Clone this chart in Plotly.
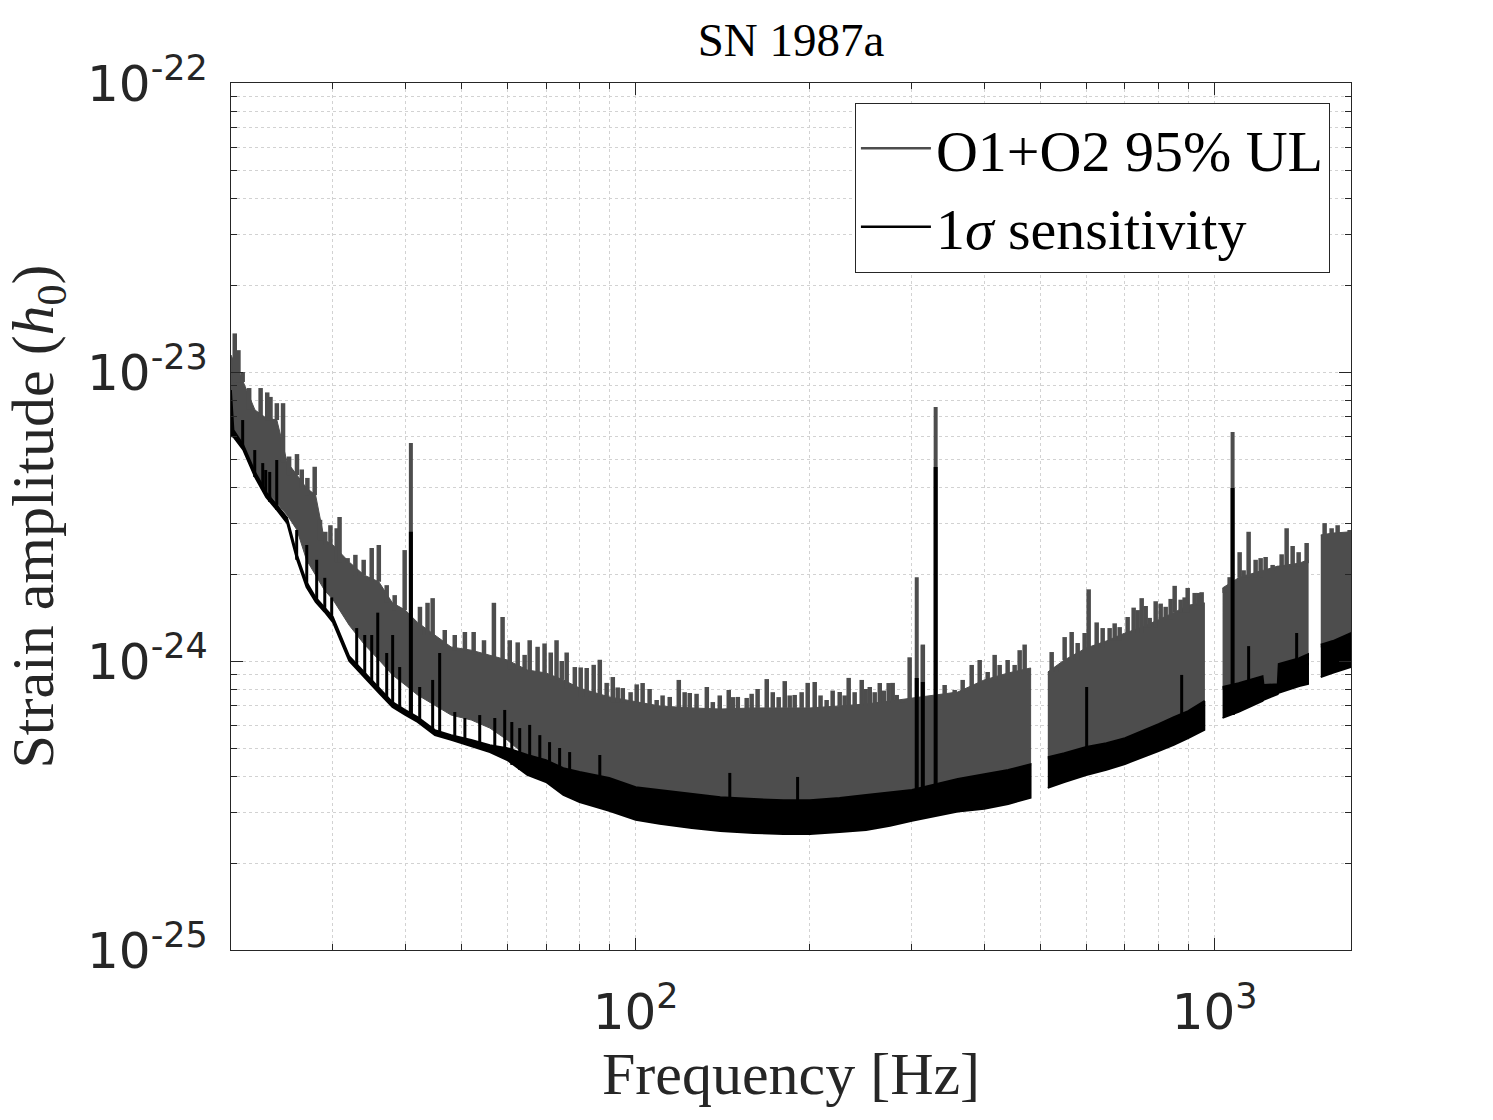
import plotly.graph_objects as go

# ---------------- data ----------------
# O1+O2 95% upper limit: dense band (upper / lower edge), gaps marked by None
ul_freq = [20, 21, 22, 23, 24, 25, 26, 27, 28, 29, 30, 32, 34, 36, 38, 40, 42, 45, 48, 52, 56, 60,
           65, 70, 75, 80, 90, 100, 110, 125, 140, 160, 180, 200, 225, 250, 275, 300, 330, 360, 400,
           440, 481, None,
           515, 550, 600, 650, 700, 750, 800, 850, 900, 960, None,
           1032, 1100, 1210, 1215, 1285, 1290, 1400, 1450, None,
           1525, 1600, 1720]
ul_top = [1.145e-23, 9.23e-24, 7.39e-24, 6.93e-24, 6.82e-24, 4.88e-24, 4.40e-24, 3.97e-24, 3.75e-24,
          2.62e-24, 2.52e-24, 2.20e-24, 1.98e-24, 1.88e-24, 1.59e-24, 1.50e-24, 1.36e-24, 1.23e-24,
          1.118e-24, 1.09e-24, 1.05e-24, 1.008e-24, 9.31e-25, 9.09e-25, 8.60e-25, 8.06e-25, 7.51e-25,
          7.21e-25, 6.99e-25, 6.88e-25, 6.82e-25, 6.88e-25, 6.88e-25, 6.88e-25, 6.99e-25, 7.10e-25,
          7.27e-25, 7.45e-25, 7.63e-25, 7.81e-25, 8.60e-25, 9.09e-25, 9.46e-25, None,
          9.16e-25, 1.008e-24, 1.109e-24, 1.173e-24, 1.25e-24, 1.31e-24, 1.39e-24, 1.47e-24, 1.56e-24,
          1.59e-24, None,
          1.79e-24, 1.94e-24, 2.06e-24, 2.06e-24, 2.13e-24, 2.13e-24, 2.18e-24, 2.24e-24, None,
          2.73e-24, 2.77e-24, 2.80e-24]
ul_bot = [6.30e-24, 5.46e-24, 4.44e-24, 3.91e-24, 3.52e-24, 3.20e-24, 2.84e-24, 2.24e-24, 1.98e-24,
          1.76e-24, 1.63e-24, 1.33e-24, 1.14e-24, 1.01e-24, 8.95e-25, 8.26e-25, 7.63e-25, 7.04e-25,
          6.50e-25, 6.25e-25, 5.86e-25, 5.33e-25, 4.65e-25, 4.47e-25, 4.20e-25, 4.06e-25, 3.87e-25,
          3.61e-25, 3.52e-25, 3.41e-25, 3.33e-25, 3.28e-25, 3.25e-25, 3.25e-25, 3.30e-25, 3.38e-25,
          3.47e-25, 3.52e-25, 3.69e-25, 3.84e-25, 4.00e-25, 4.13e-25, 4.33e-25, None,
          4.58e-25, 4.73e-25, 4.96e-25, 5.12e-25, 5.33e-25, 5.63e-25, 5.96e-25, 6.30e-25, 6.61e-25,
          7.16e-25, None,
          8.00e-25, 8.26e-25, 8.74e-25, 8.13e-25, 8.19e-25, 9.61e-25, 1.008e-24, 1.041e-24, None,
          1.118e-24, 1.154e-24, 1.23e-24]

# O1+O2 95% upper limit: tall narrow peaks rising above the band
ul_peak_freq = [20.3, 20.6, 20.95, 21.5, 22.5, 23.1, 23.4, 24.0, 24.6, 25.2, 26.0, 26.5, 27.1, 27.9,
                28.5, 29.1, 29.7, 30.45, 30.8, 31.8, 32.8, 33.9, 35.0, 36.0, 37.15, 38.35, 39.9,
                42.4, 43.7, 44.6, 46.8, 48.7, 50.7, 52.5, 54.7, 56.9, 58.9, 60.6, 64.3, 65.6, 67.7,
                69.6, 73.0, 76.0, 78.5, 82.3, 86.7, 91.3, 95.0, 102.8, 108.7, 114.5, 118.7, 124.0,
                132.7, 135.9, 144.8, 150.1, 155.5, 168.4, 180.9, 188.2, 203.8, 213.7, 225.1, 233.3,
                245.7, 253.7, 264.0, 273.5, 282.4, 289.2, 297.3, 313.3, 341.7, 355.6, 367.1, 380.5,
                392.8, 405.5, 416.9, 425.3, 439.0, 451.4, 460.5, 469.7,
                523.0, 533.5, 550.7, 566.3, 580.0, 605.9, 625.5, 658.6, 685.4, 707.5, 724.6, 748.1,
                772.3, 790.9, 823.0, 853.0, 873.6, 898.3, 923.6, 949.6,
                1040.5, 1061.4, 1104.5, 1122.2, 1144.7, 1177.0, 1200.7, 1224.8, 1259.4, 1305.3,
                1331.5, 1363.7, 1396.6, 1441.7,
                1548.6, 1592.3, 1630.8, 1676.8, 1710.5]
ul_peak_h = [1.36e-23, 1.19e-23, 1.0e-23, 8.8e-24, 8.8e-24, 8.5e-24, 8.2e-24, 7.8e-24, 7.8e-24,
             5.1e-24, 5.2e-24, 4.6e-24, 4.3e-24, 4.7e-24,
             3.08e-24, 2.80e-24, 2.95e-24, 2.88e-24, 3.15e-24, 2.27e-24, 2.33e-24, 2.24e-24,
             2.46e-24, 2.52e-24, 1.83e-24, 1.69e-24, 2.42e-24,
             1.54e-24, 1.59e-24, 1.65e-24, 1.28e-24, 1.23e-24, 1.26e-24, 1.26e-24, 1.18e-24,
             1.59e-24, 1.42e-24, 1.18e-24, 1.05e-24, 1.18e-24, 1.12e-24,
             1.15e-24, 1.18e-24, 1.07e-24, 9.53e-25, 9.46e-25, 1.01e-24, 8.80e-25, 8.06e-25,
             8.39e-25, 7.33e-25, 7.51e-25, 8.60e-25, 7.75e-25,
             8.13e-25, 7.21e-25, 7.94e-25, 7.51e-25, 7.45e-25, 8.66e-25, 8.52e-25, 7.63e-25,
             8.46e-25, 7.33e-25, 7.81e-25, 8.74e-25,
             8.60e-25, 8.13e-25, 8.39e-25, 8.39e-25, 7.63e-25, 7.21e-25, 1.03e-24, 1.14e-24,
             8.26e-25, 7.94e-25, 8.60e-25, 9.69e-25,
             1.008e-24, 9.16e-25, 1.05e-24, 9.69e-25, 1.008e-24, 9.69e-25, 1.09e-24, 1.14e-24,
             1.074e-24, 9.53e-25, 1.21e-24, 1.26e-24, 1.154e-24, 1.77e-24, 1.36e-24, 1.30e-24,
             1.31e-24, 1.42e-24, 1.53e-24, 1.65e-24,
             1.41e-24, 1.61e-24, 1.54e-24, 1.82e-24, 1.63e-24, 1.79e-24, 1.72e-24, 1.73e-24,
             1.72e-24, 1.95e-24, 2.38e-24, 2.06e-24, 2.80e-24, 2.24e-24, 2.27e-24, 2.29e-24,
             2.15e-24, 2.34e-24, 2.88e-24, 2.50e-24, 2.38e-24, 2.56e-24,
             3.00e-24, 2.88e-24, 2.95e-24, 2.77e-24, 2.84e-24]

# O1+O2 95% upper limit: smaller peaks filling the band's ragged top edge
ul_small_freq = [62.55, 71.33, 74.52, 80.36, 84.62, 89.1, 93.1, 98.0, 100.4, 105.7, 111.3, 121.5,
                 127.4, 139.7, 147.1, 158.6, 162.4, 172.5, 176.6, 184.5, 193.5, 198.2, 208.6,
                 218.9, 229.6, 238.9, 249.6, 258.7, 268.2, 277.9,
                 596.3, 640.6, 671.9, 736.3, 760.1, 806.8, 839.5, 887.5, 938.3]
ul_small_h = [1.16e-24, 1.07e-24, 1.0e-24, 9.5e-25, 9.7e-25, 8.4e-25, 8.1e-25, 7.8e-25,
              8.3e-25, 8.0e-25, 7.6e-25, 7.8e-25, 7.7e-25, 7.6e-25, 7.5e-25, 7.7e-25,
              8.0e-25, 7.8e-25, 7.5e-25, 7.6e-25, 7.8e-25, 8.4e-25, 7.6e-25, 7.9e-25,
              7.6e-25, 7.8e-25, 8.0e-25, 7.8e-25, 7.9e-25, 8.4e-25,
              1.25e-24, 1.30e-24, 1.35e-24, 1.50e-24, 1.55e-24, 1.58e-24, 1.64e-24, 1.66e-24,
              1.72e-24]

# 1-sigma sensitivity: band (upper / lower edge), gaps marked by None
sens_freq = [20, 20.2, 21, 22, 23, 24, 25, 26, 27, 28, 29, 30, 32, 34, 36, 38, 40, 42, 45, 48, 52, 56,
             60, 65, 70, 75, 80, 90, 100, 110, 125, 140, 160, 180, 200, 225, 250, 275, 300, 330,
             360, 400, 440, 481, None,
             515, 550, 600, 650, 700, 750, 800, 850, 900, 960, None,
             1032, 1100, 1210, 1215, 1285, 1290, 1400, 1450, None,
             1525, 1600, 1720]
sens_top = [8.66e-24, 6.30e-24, 5.59e-24, 4.51e-24, 3.85e-24, 3.47e-24, 3.13e-24, 2.33e-24, 1.88e-24,
            1.66e-24, 1.54e-24, 1.42e-24, 1.04e-24, 9.16e-25, 8.06e-25, 7.21e-25, 6.77e-25, 6.40e-25,
            5.77e-25, 5.54e-25, 5.33e-25, 5.12e-25, 5.00e-25, 4.73e-25, 4.54e-25, 4.26e-25, 4.13e-25,
            3.94e-25, 3.66e-25, 3.58e-25, 3.47e-25, 3.38e-25, 3.33e-25, 3.30e-25, 3.30e-25, 3.36e-25,
            3.44e-25, 3.52e-25, 3.58e-25, 3.75e-25, 3.91e-25, 4.06e-25, 4.20e-25, 4.40e-25, None,
            4.65e-25, 4.80e-25, 5.04e-25, 5.20e-25, 5.41e-25, 5.72e-25, 6.05e-25, 6.40e-25, 6.71e-25,
            7.27e-25, None,
            8.13e-25, 8.39e-25, 8.87e-25, 8.26e-25, 8.32e-25, 9.76e-25, 1.024e-24, 1.057e-24, None,
            1.14e-24, 1.173e-24, 1.25e-24]
sens_bot = [6.00e-24, 5.96e-24, 5.37e-24, 4.33e-24, 3.69e-24, 3.33e-24, 3.00e-24, 2.24e-24, 1.80e-24,
            1.60e-24, 1.48e-24, 1.36e-24, 1.00e-24, 8.80e-25, 7.75e-25, 6.93e-25, 6.50e-25, 6.15e-25,
            5.54e-25, 5.33e-25, 5.08e-25, 4.84e-25, 4.54e-25, 4.03e-25, 3.81e-25, 3.44e-25, 3.25e-25,
            3.03e-25, 2.82e-25, 2.73e-25, 2.64e-25, 2.58e-25, 2.54e-25, 2.52e-25, 2.52e-25, 2.56e-25,
            2.60e-25, 2.69e-25, 2.80e-25, 2.91e-25, 3.01e-25, 3.08e-25, 3.20e-25, 3.36e-25, None,
            3.64e-25, 3.81e-25, 4.03e-25, 4.20e-25, 4.40e-25, 4.65e-25, 4.88e-25, 5.12e-25, 5.41e-25,
            5.77e-25, None,
            6.35e-25, 6.66e-25, 7.27e-25, 7.33e-25, 7.68e-25, 7.75e-25, 8.19e-25, 8.32e-25, None,
            8.80e-25, 9.09e-25, 9.53e-25]

# 1-sigma sensitivity: narrow lines (frequency, foot, top)
sens_peak_freq = [20.95, 21.98, 22.69, 22.96, 23.33, 23.99, 25.97, 27.03, 28.12, 29.04, 29.85,
                  32.97, 34.04, 35.0, 35.85, 37.15, 38.04, 39.12, 42.36, 44.6, 45.86, 48.7, 50.7,
                  53.78, 57.1, 59.4, 61.1, 63.05, 65.6, 68.3, 71.0, 73.9, 76.9, 86.7, 145.4, 190.4,
                  601.1, 877.1, 1144.7, 1385.6]
sens_peak_base = [5.50e-24, 4.33e-24, 3.91e-24, 3.75e-24, 3.55e-24, 3.33e-24, 2.24e-24, 1.83e-24,
                  1.60e-24, 1.48e-24, 1.39e-24, 9.46e-25, 8.80e-25, 8.39e-25, 7.94e-25, 7.33e-25,
                  7.04e-25, 6.77e-25, 6.15e-25, 5.63e-25, 5.46e-25, 5.33e-25, 5.24e-25, 5.08e-25,
                  4.84e-25, 4.65e-25, 4.37e-25, 4.20e-25, 4.03e-25, 3.94e-25, 3.81e-25, 3.58e-25,
                  3.44e-25, 3.30e-25, 2.71e-25, 2.71e-25, 4.20e-25, 5.33e-25, 7.94e-25, 8.60e-25]
sens_peak_h = [6.82e-24, 5.37e-24, 4.84e-24, 4.58e-24, 4.51e-24, 4.96e-24, 2.84e-24, 2.52e-24,
               2.24e-24, 1.94e-24, 1.66e-24, 1.30e-24, 1.23e-24, 1.23e-24, 1.47e-24, 1.066e-24,
               1.23e-24, 9.53e-25, 8.13e-25, 8.60e-25, 1.066e-24, 6.66e-25, 6.35e-25, 6.50e-25,
               6.35e-25, 6.77e-25, 6.15e-25, 5.86e-25, 6.01e-25, 5.54e-25, 5.24e-25, 5.00e-25,
               4.84e-25, 4.73e-25, 4.10e-25, 3.97e-25, 8.13e-25, 8.95e-25, 1.126e-24, 1.25e-24]

# strong instrumental lines seen in both curves
line_freq = [40.9, 305.8, 313.3, 329.7, 1074]
line_base = [6.4e-25, 2.93e-25, 2.93e-25, 3.01e-25, 6.50e-25]
line_ul = [5.68e-24, 1.95e-24, 1.13e-24, 7.57e-24, 6.20e-24]
line_sens = [2.80e-24, 8.74e-25, 8.46e-25, 4.69e-24, 3.97e-24]

series_names = ["O1+O2 95% UL", "1<i>σ</i> sensitivity"]
x_tick_vals = [100, 1000]
x_tick_text = ["10<sup>2</sup>", "10<sup>3</sup>"]
y_tick_vals = [1e-25, 1e-24, 1e-23, 1e-22]
y_tick_text = ["10<sup>-25</sup>", "10<sup>-24</sup>", "10<sup>-23</sup>", "10<sup>-22</sup>"]
x_minor = [30, 40, 50, 60, 70, 80, 90, 200, 300, 400, 500, 600, 700, 800, 900]
y_minor = [m * 10.0 ** e for e in (-25, -24, -23) for m in range(2, 10)]

UL_COLOR = "#4d4d4d"
SENS_COLOR = "#000000"


# ---------------- helpers ----------------
def segments(freq, *cols):
    out, cur = [], [[] for _ in range(len(cols) + 1)]
    for i, f in enumerate(freq):
        if f is None:
            out.append(cur)
            cur = [[] for _ in range(len(cols) + 1)]
        else:
            cur[0].append(f)
            for j, c in enumerate(cols):
                cur[j + 1].append(c[i])
    out.append(cur)
    return out


def band(freq, top, bot):
    xs, ys = [], []
    for f, t, b in segments(freq, top, bot):
        xs += f + f[::-1] + [None]
        ys += t + b[::-1] + [None]
    return xs, ys


def peak_foot(p, freq, top):
    # foot of a peak: the lower of the two band-edge nodes around it (always inside the band)
    for f, t in segments(freq, top):
        if f[0] <= p <= f[-1]:
            i = next(k for k, v in enumerate(f) if v >= p)
            return t[i] if i == 0 else min(t[i - 1], t[i])
    return None


def sticks(freq, lo, hi):
    xs, ys = [], []
    for f, a, b in zip(freq, lo, hi):
        xs += [f, f, None]
        ys += [a, b, None]
    return xs, ys


fig = go.Figure()

# UL band
bx, by = band(ul_freq, ul_top, ul_bot)
fig.add_trace(go.Scatter(x=bx, y=by, mode="lines", fill="toself", fillcolor=UL_COLOR,
                         line=dict(color=UL_COLOR, width=1), showlegend=False, hoverinfo="skip"))
# UL peaks
all_pf = ul_peak_freq + ul_small_freq
all_ph = ul_peak_h + ul_small_h
feet = [peak_foot(p, ul_freq, ul_top) for p in all_pf]
px, py = sticks(all_pf, feet, all_ph)
fig.add_trace(go.Scatter(x=px, y=py, mode="lines", line=dict(color=UL_COLOR, width=4.5),
                         showlegend=False))
# strong lines, UL part
lx, ly = sticks(line_freq, line_base, line_ul)
fig.add_trace(go.Scatter(x=lx, y=ly, mode="lines", line=dict(color=UL_COLOR, width=4),
                         showlegend=False))
# sensitivity band
sx, sy = band(sens_freq, sens_top, sens_bot)
fig.add_trace(go.Scatter(x=sx, y=sy, mode="lines", fill="toself", fillcolor=SENS_COLOR,
                         line=dict(color=SENS_COLOR, width=1.8), showlegend=False, hoverinfo="skip"))
# sensitivity narrow lines
kx, ky = sticks(sens_peak_freq, sens_peak_base, sens_peak_h)
fig.add_trace(go.Scatter(x=kx, y=ky, mode="lines", line=dict(color=SENS_COLOR, width=3),
                         showlegend=False))
# strong lines, sensitivity part
lx2, ly2 = sticks(line_freq, line_base, line_sens)
fig.add_trace(go.Scatter(x=lx2, y=ly2, mode="lines", line=dict(color=SENS_COLOR, width=4),
                         showlegend=False))
# legend entries (thin line keys like the reference)
fig.add_trace(go.Scatter(x=[None], y=[None], mode="lines", line=dict(color=UL_COLOR, width=2.5),
                         name=series_names[0]))
fig.add_trace(go.Scatter(x=[None], y=[None], mode="lines", line=dict(color=SENS_COLOR, width=2.5),
                         name=series_names[1]))

AX = "#262626"
GRID = "#d2d2d2"
SERIF = "Liberation Serif"
axis_common = dict(type="log", showline=True, linecolor=AX, linewidth=1.3, mirror="ticks",
                   ticks="inside", ticklen=12, tickwidth=1.2, tickcolor=AX,
                   showgrid=True, gridcolor=GRID, griddash="3px,3px", gridwidth=1,
                   zeroline=False,
                   tickfont=dict(family="DejaVu Sans", size=50, color=AX))

fig.update_layout(
    width=1493, height=1120,
    margin=dict(l=231, r=142, t=83, b=170),
    paper_bgcolor="white", plot_bgcolor="white",
    title=dict(text="SN 1987a", x=0.5, xref="paper", xanchor="center",
               y=1 - 40 / 1120, yref="container", yanchor="middle",
               font=dict(family=SERIF, size=47, color="black")),
    xaxis=dict(axis_common, range=[1.30103, 3.2355],
               tickvals=x_tick_vals, ticktext=x_tick_text, ticklabelstandoff=18,
               minor=dict(tickvals=x_minor, ticks="inside", ticklen=6, tickcolor=AX,
                          showgrid=True, gridcolor=GRID, griddash="3px,3px"),
               title=dict(text="Frequency [Hz]", standoff=8,
                          font=dict(family=SERIF, size=60, color=AX))),
    yaxis=dict(axis_common, range=[-25, -22],
               tickvals=y_tick_vals, ticktext=y_tick_text, ticklabelstandoff=12,
               minor=dict(tickvals=y_minor, ticks="inside", ticklen=6, tickcolor=AX,
                          showgrid=True, gridcolor=GRID, griddash="3px,3px"),
               title=dict(text="Strain amplitude (<i>h</i><sub>0</sub>)", standoff=20,
                          font=dict(family=SERIF, size=60, color=AX))),
    legend=dict(x=0.981, y=0.977, xanchor="right", yanchor="top",
                bgcolor="white", bordercolor=AX, borderwidth=1.2,
                font=dict(family=SERIF, size=58, color="black"),
                tracegroupgap=0, itemwidth=70),
    showlegend=True,
)

fig.write_html("out.html")
